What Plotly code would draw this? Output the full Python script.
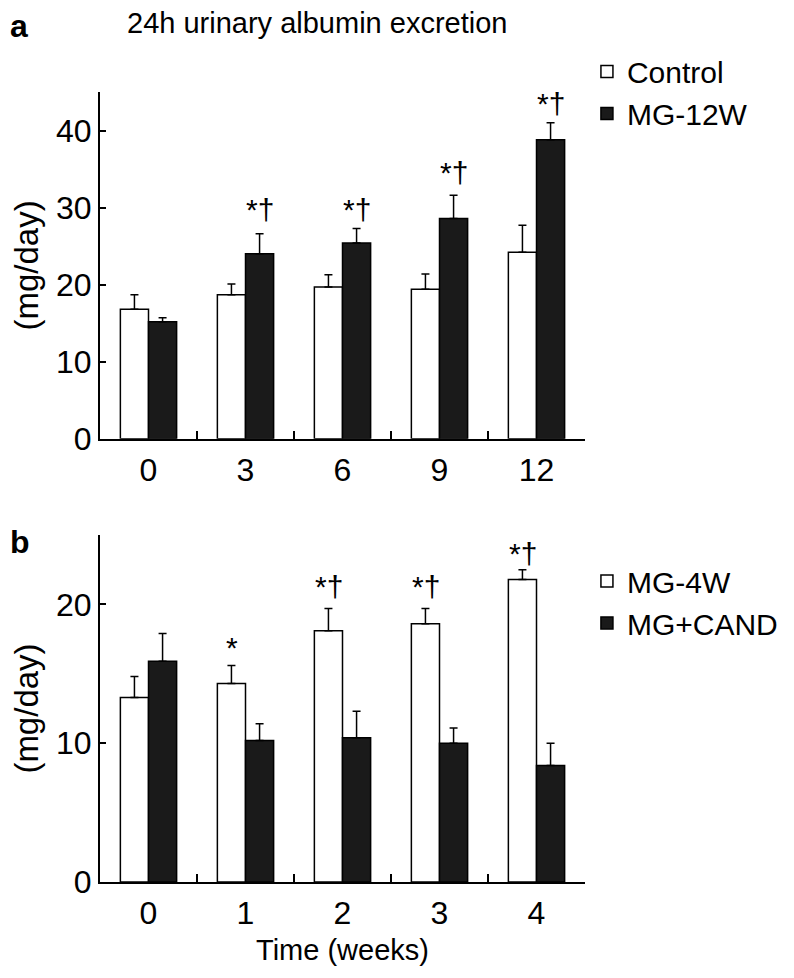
import plotly.graph_objects as go

# ---- data ----
weeks_a = ["0", "3", "6", "9", "12"]
control = [16.8, 18.7, 19.7, 19.4, 24.2]
control_err = [1.9, 1.4, 1.6, 2.0, 3.5]
mg12w = [15.2, 24.0, 25.4, 28.6, 38.8]
mg12w_err = [0.5, 2.6, 1.9, 3.0, 2.2]
sig_a = ["", "*†", "*†", "*†", "*†"]
sig_a_y = [None, 29.7, 29.7, 34.5, 43.5]

weeks_b = ["0", "1", "2", "3", "4"]
mg4w = [13.3, 14.3, 18.1, 18.6, 21.8]
mg4w_err = [1.5, 1.3, 1.6, 1.1, 0.7]
mgcand = [15.9, 10.2, 10.4, 10.0, 8.4]
mgcand_err = [2.0, 1.2, 1.9, 1.1, 1.6]
sig_b = ["", "*", "*†", "*†", "*†"]
sig_b_y = [None, 16.9, 21.3, 21.3, 23.7]

FONT = "Liberation Sans, Arial, Helvetica, sans-serif"
BLACK = "#1a1a1a"


def err(vals):
    return dict(type="data", symmetric=False, array=vals, arrayminus=[0] * len(vals),
                color="black", thickness=1.5, width=4)


fig = go.Figure()
fig.add_trace(go.Bar(x=weeks_a, y=control, name="Control", marker=dict(color="white", line=dict(color="black", width=1.5)),
                     error_y=err(control_err), xaxis="x", yaxis="y", legend="legend"))
fig.add_trace(go.Bar(x=weeks_a, y=mg12w, name="MG-12W", marker=dict(color=BLACK, line=dict(color="black", width=1.5)),
                     error_y=err(mg12w_err), xaxis="x", yaxis="y", legend="legend"))
fig.add_trace(go.Bar(x=weeks_b, y=mg4w, name="MG-4W", marker=dict(color="white", line=dict(color="black", width=1.5)),
                     error_y=err(mg4w_err), xaxis="x2", yaxis="y2", legend="legend2"))
fig.add_trace(go.Bar(x=weeks_b, y=mgcand, name="MG+CAND", marker=dict(color=BLACK, line=dict(color="black", width=1.5)),
                     error_y=err(mgcand_err), xaxis="x2", yaxis="y2", legend="legend2"))

annotations = []
for i, (s, yv) in enumerate(zip(sig_a, sig_a_y)):
    if s:
        annotations.append(dict(x=i, y=yv, xref="x", yref="y", text=s, showarrow=False,
                                xshift=14, yanchor="middle", font=dict(size=30, color="black")))
for i, (s, yv) in enumerate(zip(sig_b, sig_b_y)):
    if s:
        annotations.append(dict(x=i, y=yv, xref="x2", yref="y2", text=s, showarrow=False,
                                xshift=-14, yanchor="middle", font=dict(size=30, color="black")))

annotations += [
    dict(x=-0.19, y=1.0835, xref="paper", yref="paper", text="<b>a</b>", showarrow=False,
         xanchor="left", yanchor="middle", font=dict(size=32, color="black")),
    dict(x=-0.19, y=0.430, xref="paper", yref="paper", text="<b>b</b>", showarrow=False,
         xanchor="left", yanchor="middle", font=dict(size=32, color="black")),
    dict(x=0.447, y=1.087, xref="paper", yref="paper", text="24h urinary albumin excretion", showarrow=False,
         xanchor="center", yanchor="middle", font=dict(size=29, color="black")),
    dict(x=0.5, y=-0.086, xref="paper", yref="paper", text="Time (weeks)", showarrow=False,
         xanchor="center", yanchor="middle", font=dict(size=29, color="black")),
]

xaxis_common = dict(type="category", range=[-0.5, 4.5], showline=True, linecolor="black", linewidth=2,
                    ticks="inside", tickson="boundaries", ticklen=8, tickwidth=2, tickcolor="black",
                    tickfont=dict(size=32, color="black"), showgrid=False, zeroline=False,
                    ticklabelstandoff=2, automargin=False, fixedrange=True)
yaxis_common = dict(showline=True, linecolor="black", linewidth=2, ticks="inside", ticklen=6, tickwidth=2,
                    tickcolor="black", tickfont=dict(size=32, color="black"), showgrid=False, zeroline=False,
                    ticklabelstandoff=0, automargin=False)

fig.update_layout(
    width=794, height=978,
    margin=dict(l=92, r=217, t=84, b=104),
    paper_bgcolor="white", plot_bgcolor="white",
    font=dict(family=FONT, color="black"),
    barmode="group", bargap=0.42, bargroupgap=0,
    xaxis=dict(domain=[0, 1], anchor="y", **xaxis_common),
    yaxis=dict(domain=[0.561, 1], anchor="x", range=[0, 45], tickvals=[0, 10, 20, 30, 40],
               title=dict(text="(mg/day)", font=dict(size=33), standoff=30), **yaxis_common),
    xaxis2=dict(domain=[0, 1], anchor="y2", **xaxis_common),
    yaxis2=dict(domain=[0, 0.4392], anchor="x2", range=[0, 25], tickvals=[0, 10, 20],
                title=dict(text="(mg/day)", font=dict(size=33), standoff=30), **yaxis_common),
    legend=dict(x=1.004, y=1.059, xanchor="left", yanchor="top", font=dict(size=30, color="black"),
                bgcolor="rgba(0,0,0,0)", borderwidth=0),
    legend2=dict(x=1.004, y=0.414, xanchor="left", yanchor="top", font=dict(size=30, color="black"),
                 bgcolor="rgba(0,0,0,0)", borderwidth=0),
    annotations=annotations,
    showlegend=True,
)

fig.write_html("out.html")
